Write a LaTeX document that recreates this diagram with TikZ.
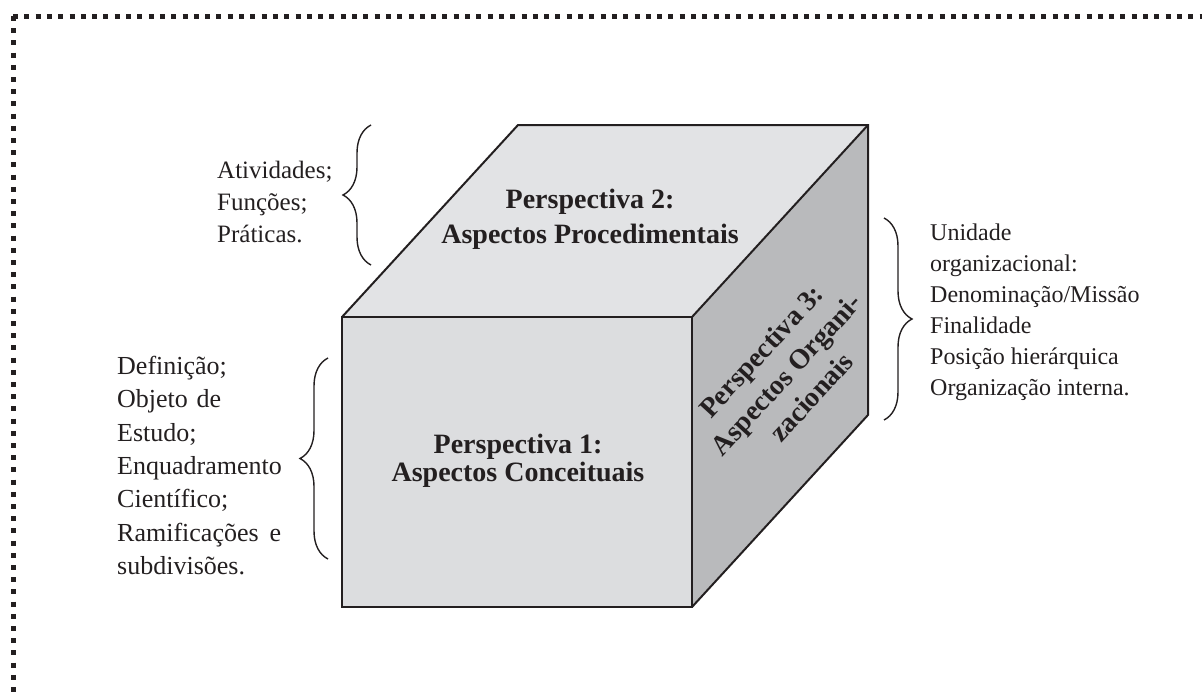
\documentclass[tikz,border=0pt]{standalone}
\usepackage{fontspec}
\setmainfont{Liberation Serif}
\usetikzlibrary{decorations.pathreplacing}
\definecolor{ink}{RGB}{35,31,32}
\definecolor{topface}{RGB}{226,227,229}
\definecolor{frontface}{RGB}{220,221,223}
\definecolor{sideface}{RGB}{185,186,188}
\begin{document}
\begin{tikzpicture}[x=1pt,y=-1pt,line join=miter,
  edge/.style={draw=ink,line width=2pt},
  facelabel/.style={font=\fontsize{28}{#1}\selectfont\bfseries,text=ink,align=center,inner sep=0pt},
  note/.style={text=ink,align=left,inner sep=0pt,anchor=north west},
  curly/.style={draw=ink,line width=1.4pt,decorate,decoration={brace,amplitude=#1}},
  frame/.style={draw=ink,line width=5pt,dash pattern=#1}]
\useasboundingbox (0,0) rectangle (1202,696);

% dotted frame (top and left sides)
\coordinate (corner) at (13,16);
\coordinate (topend) at (1205,16);
\coordinate (leftend) at (13,700);
\draw[frame={on 5pt off 6.3pt}] (corner) -- (topend);
\draw[frame={on 5pt off 7.2pt}] (corner) -- (leftend);

% cube corners
\coordinate (FTL) at (342,317);
\coordinate (FTR) at (692,317);
\coordinate (FBR) at (692,607);
\coordinate (FBL) at (342,607);
\coordinate (BTL) at (518,125);
\coordinate (BTR) at (868,125);
\coordinate (BBR) at (868,415);

% faces
\fill[topface] (FTL) -- (BTL) -- (BTR) -- (FTR) -- cycle;
\fill[sideface] (FTR) -- (BTR) -- (BBR) -- (FBR) -- cycle;
\fill[frontface] (FTL) -- (FTR) -- (FBR) -- (FBL) -- cycle;
\draw[edge] (FTL) -- (BTL) -- (BTR) -- (BBR) -- (FBR);
\draw[edge] (FTR) -- (BTR);
\draw[edge,line width=2.5pt] (FTL) -- (FTR) -- (FBR) -- (FBL) -- cycle;

% face labels
\node[facelabel=35] (p2) at (590,219) {Perspectiva 2:\\Aspectos Procedimentais};
\node[facelabel=28] (p1) at (518,461) {Perspectiva 1:\\Aspectos Conceituais};
\node[facelabel=34,rotate=47.5] (p3) at (786,374) {Perspectiva 3:\\Aspectos Organi-\\zacionais};

% braces
\coordinate (b1a) at (371,265);
\coordinate (b1b) at (371,125);
\coordinate (b2a) at (328,559);
\coordinate (b2b) at (328,358);
\coordinate (b3a) at (884,218);
\coordinate (b3b) at (884,420);
\draw[curly=28pt] (b1a) -- (b1b);
\draw[curly=28pt] (b2a) -- (b2b);
\draw[curly=28pt] (b3a) -- (b3b);

% notes
\node[note,font=\fontsize{25}{32}\selectfont] (n2) at (217,161)
  {Atividades;\\Funções;\\Práticas.};
\node[note,font=\fontsize{26}{33.3}\selectfont,text width=164pt] (n1) at (117,356)
  {Definição;\\Objeto de\\Estudo;\\Enquadramento\\Científico;\\Ramificações\hfill e\\subdivisões.};
\node[note,font=\fontsize{24}{31}\selectfont] (n3) at (930,224)
  {Unidade\\organizacional:\\Denominação/Missão\\Finalidade\\Posição hierárquica\\Organização interna.};
\end{tikzpicture}
\end{document}
